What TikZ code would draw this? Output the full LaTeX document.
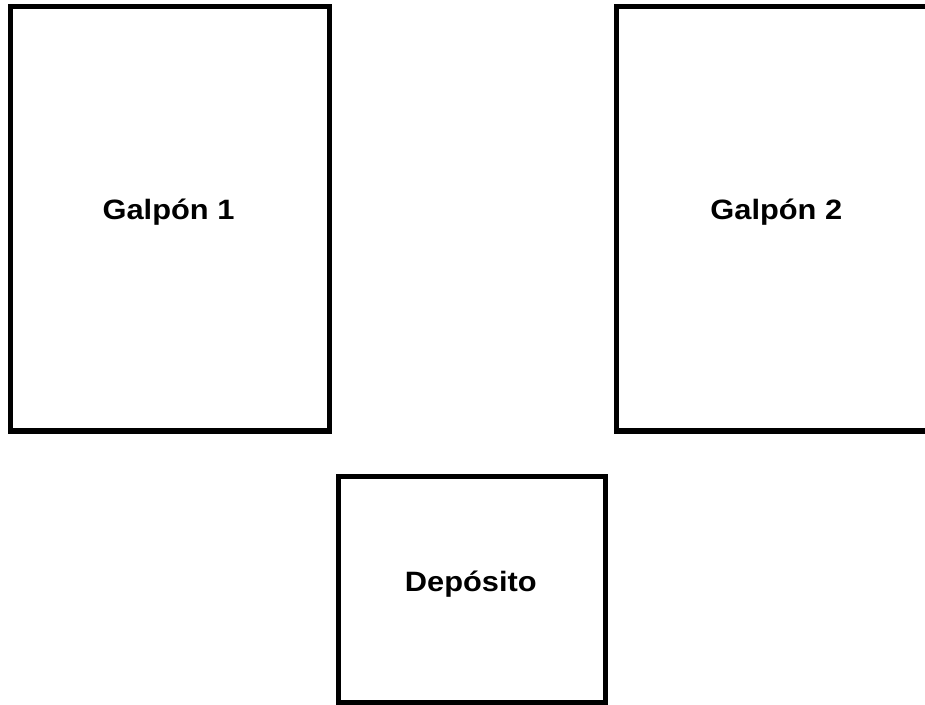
\documentclass[tikz,border=0pt]{standalone}
\usepackage{fontspec}
\setmainfont{Liberation Sans}
\begin{document}
\begin{tikzpicture}[x=1pt,y=-1pt,
  room/.style={draw=black,line width=5.3pt,fill=none},
  lbl/.style={anchor=base,inner sep=0pt,font=\fontsize{28}{30}\selectfont\bfseries,xscale=1.1,transform shape}]
\useasboundingbox (0,0) rectangle (925,704);
\clip (0,0) rectangle (925,704);
\fill[white] (0,0) rectangle (925,704);
\draw[room] (10.5,6.5) rectangle (329.5,431);
\draw[room] (616.7,6.5) rectangle (935.5,431);
\draw[room] (338.2,476.8) rectangle (605.2,703);
\node[lbl] (g1) at (168.5,219.5) {Galpón 1};
\node[lbl] (g2) at (776.3,219.5) {Galpón 2};
\node[lbl] (dep) at (470.8,591) {Depósito};
\end{tikzpicture}
\end{document}
